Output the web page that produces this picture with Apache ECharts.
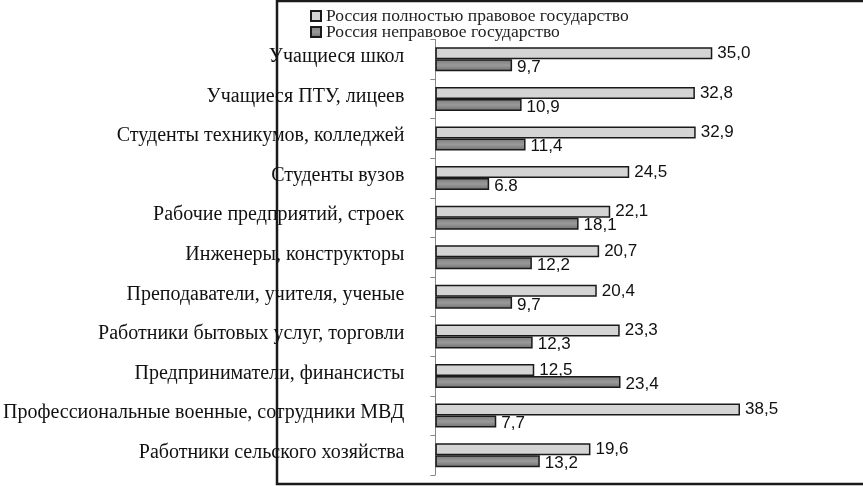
<!DOCTYPE html>
<html>
<head>
<meta charset="utf-8">
<script src="https://cdn.jsdelivr.net/npm/echarts@6/dist/echarts.min.js"></script>
<style>
html,body{margin:0;padding:0;background:#fff;}
#chart{width:863px;height:486px;}
</style>
</head>
<body>
<div id="chart"></div>
<script>
var categories = [
  'Учащиеся школ',
  'Учащиеся ПТУ, лицеев',
  'Студенты техникумов, колледжей',
  'Студенты вузов',
  'Рабочие предприятий, строек',
  'Инженеры, конструкторы',
  'Преподаватели, учителя, ученые',
  'Работники бытовых услуг, торговли',
  'Предприниматели, финансисты',
  'Профессиональные военные, сотрудники МВД',
  'Работники сельского хозяйства'
];
var seriesNames = ['Россия полностью правовое государство', 'Россия неправовое государство'];
var lawfulValues = [35.0, 32.8, 32.9, 24.5, 22.1, 20.7, 20.4, 23.3, 12.5, 38.5, 19.6];
var unlawfulValues = [9.7, 10.9, 11.4, 6.8, 18.1, 12.2, 9.7, 12.3, 23.4, 7.7, 13.2];
var lawfulLabels = ['35,0', '32,8', '32,9', '24,5', '22,1', '20,7', '20,4', '23,3', '12,5', '38,5', '19,6'];
var unlawfulLabels = ['9,7', '10,9', '11,4', '6.8', '18,1', '12,2', '9,7', '12,3', '23,4', '7,7', '13,2'];

var chart = echarts.init(document.getElementById('chart'), null, {renderer: 'canvas'});
var darkGrad = new echarts.graphic.LinearGradient(0, 0, 0, 1, [
  {offset: 0, color: '#7a7a7a'},
  {offset: 0.5, color: '#9a9a9a'},
  {offset: 1, color: '#6e6e6e'}
]);
chart.setOption({
  animation: false,
  backgroundColor: '#fff',
  graphic: [{
    type: 'rect',
    shape: {x: 277, y: 1, width: 600, height: 483},
    style: {fill: 'none', stroke: '#1a1a1a', lineWidth: 2.5},
    silent: true
  }],
  legend: {
    orient: 'vertical',
    left: 305,
    top: 2,
    itemWidth: 10,
    itemHeight: 10,
    itemGap: -2,
    icon: 'rect',
    textStyle: {fontFamily: 'Liberation Serif', fontSize: 17.5, color: '#222'},
    data: seriesNames
  },
  grid: {left: 435, right: 32, top: 39.5, bottom: 11, containLabel: false},
  xAxis: {
    type: 'value', min: 0, max: 50,
    show: false
  },
  yAxis: {
    type: 'category',
    inverse: true,
    data: categories,
    axisLine: {show: true, lineStyle: {color: '#888', width: 1}},
    axisTick: {show: true, length: 5, lineStyle: {color: '#888'}},
    axisLabel: {
      margin: 31,
      formatter: function (v) { return '{a|' + v + '}'; },
      rich: {a: {fontFamily: 'Liberation Serif', fontSize: 20, color: '#111', padding: [0, 0, 5, 0]}}
    }
  },
  series: [{
    name: seriesNames[0],
    type: 'bar',
    data: lawfulValues,
    barWidth: 12,
    barGap: '0%',
    itemStyle: {color: '#d4d4d4', borderColor: '#1a1a1a', borderWidth: 1.5},
    label: {
      show: true, position: 'right', distance: 5,
      fontFamily: 'Liberation Sans', fontSize: 17, color: '#111',
      formatter: function (p) { return lawfulLabels[p.dataIndex]; }
    }
  }, {
    name: seriesNames[1],
    type: 'bar',
    data: unlawfulValues,
    barWidth: 12,
    barGap: '0%',
    itemStyle: {color: darkGrad, borderColor: '#1a1a1a', borderWidth: 1.5},
    label: {
      show: true, position: 'right', distance: 5, offset: [0, 2],
      fontFamily: 'Liberation Sans', fontSize: 17, color: '#111',
      formatter: function (p) { return unlawfulLabels[p.dataIndex]; }
    }
  }]
});
</script>
</body>
</html>
